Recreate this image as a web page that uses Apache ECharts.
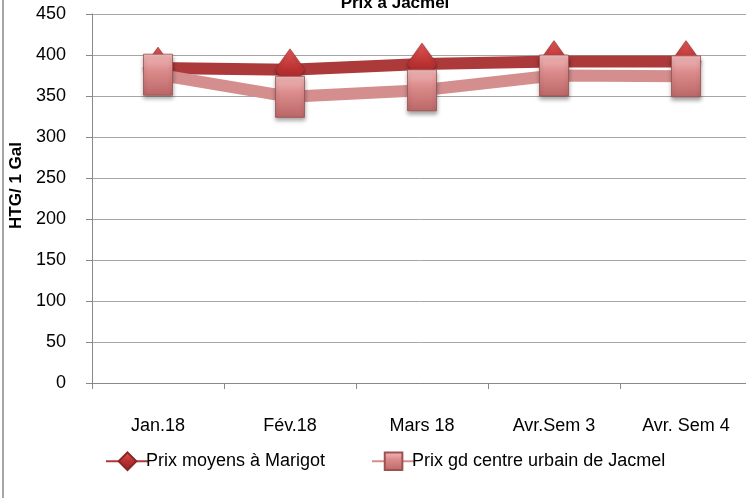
<!DOCTYPE html>
<html>
<head>
<meta charset="utf-8">
<script src="https://cdn.jsdelivr.net/npm/echarts@6/dist/echarts.min.js"></script>
<style>
  html, body { margin: 0; padding: 0; background: #fff; }
  #chart { width: 746px; height: 498px; }
</style>
</head>
<body>
<div id="chart"></div>
<script>
var categories = ['Jan.18', 'Fév.18', 'Mars 18', 'Avr.Sem 3', 'Avr. Sem 4'];
var marigot = [384, 382, 389, 392, 392];
var jacmel = [376, 349, 357, 375, 374];
var yTicks = [0, 50, 100, 150, 200, 250, 300, 350, 400, 450];

var font = '"Liberation Sans", Arial, sans-serif';

var chart = echarts.init(document.getElementById('chart'));

var option = {
    backgroundColor: '#fff',
    animation: false,
    title: {
        text: 'Prix à Jacmel',
        left: 390,
        top: -10,
        textAlign: 'center',
        textStyle: { fontFamily: font, fontSize: 17, fontWeight: 'bold', color: '#000' }
    },
    grid: { left: 92, top: 14, width: 660, bottom: 115, outerBoundsMode: 'none', containLabel: false },
    legend: {
        bottom: 22,
        left: 100,
        itemWidth: 43,
        itemHeight: 22,
        itemGap: 46,
        textStyle: { fontFamily: font, fontSize: 18, color: '#000', padding: [0, 0, 0, -8] },
        data: ['Prix moyens à Marigot', 'Prix gd centre urbain de Jacmel']
    },
    xAxis: {
        type: 'category',
        data: categories,
        boundaryGap: true,
        axisLine: { lineStyle: { color: '#888' } },
        axisTick: { show: true, length: 6, lineStyle: { color: '#888' } },
        axisLabel: { margin: 34, fontFamily: font, fontSize: 18, color: '#000' }
    },
    yAxis: {
        type: 'value',
        min: 0,
        max: 450,
        interval: 50,
        name: 'HTG/ 1 Gal',
        nameLocation: 'middle',
        nameGap: 61,
        nameTextStyle: { fontFamily: font, fontSize: 17, fontWeight: 'bold', color: '#000', padding: [0, 0, 0, 26] },
        axisLine: { show: true, lineStyle: { color: '#888' } },
        axisTick: { show: true, length: 6, inside: false, lineStyle: { color: '#888' } },
        axisLabel: {
            margin: 26, fontFamily: font, fontSize: 18, color: '#000',
            formatter: function (v) { return yTicks.indexOf(v) >= 0 ? String(v) : ''; }
        },
        splitLine: { lineStyle: { color: '#a6a6a6', width: 1 } }
    },
    series: [
        {
            name: 'Prix moyens à Marigot',
            type: 'line',
            data: marigot,
            symbol: 'diamond',
            symbolSize: [30, 42],
            lineStyle: { color: '#ac3a3a', width: 12 },
            itemStyle: {
                color: new echarts.graphic.LinearGradient(0, 0, 0, 1, [
                    { offset: 0, color: '#e05858' },
                    { offset: 0.5, color: '#b83030' },
                    { offset: 1, color: '#922424' }
                ]),
                borderColor: '#8a2525',
                borderWidth: 0.5,
                shadowColor: 'rgba(0,0,0,0.3)',
                shadowBlur: 3,
                shadowOffsetY: 2
            },
            z: 2
        },
        {
            name: 'Prix gd centre urbain de Jacmel',
            type: 'line',
            data: jacmel,
            symbol: 'rect',
            symbolSize: [29, 41],
            lineStyle: { color: '#d48e8e', width: 12 },
            itemStyle: {
                color: new echarts.graphic.LinearGradient(0, 0, 0, 1, [
                    { offset: 0, color: '#f4bcbc' },
                    { offset: 0.4, color: '#dc8c8c' },
                    { offset: 1, color: '#bb6666' }
                ]),
                borderColor: '#9c5252',
                borderWidth: 0.8,
                shadowColor: 'rgba(0,0,0,0.35)',
                shadowBlur: 4,
                shadowOffsetY: 3
            },
            z: 3
        }
    ],
    graphic: [
        {
            type: 'line',
            shape: { x1: 3, y1: 0, x2: 3, y2: 498 },
            style: { stroke: '#888', lineWidth: 1.5 }
        }
    ]
};

chart.setOption(option);
</script>
</body>
</html>
